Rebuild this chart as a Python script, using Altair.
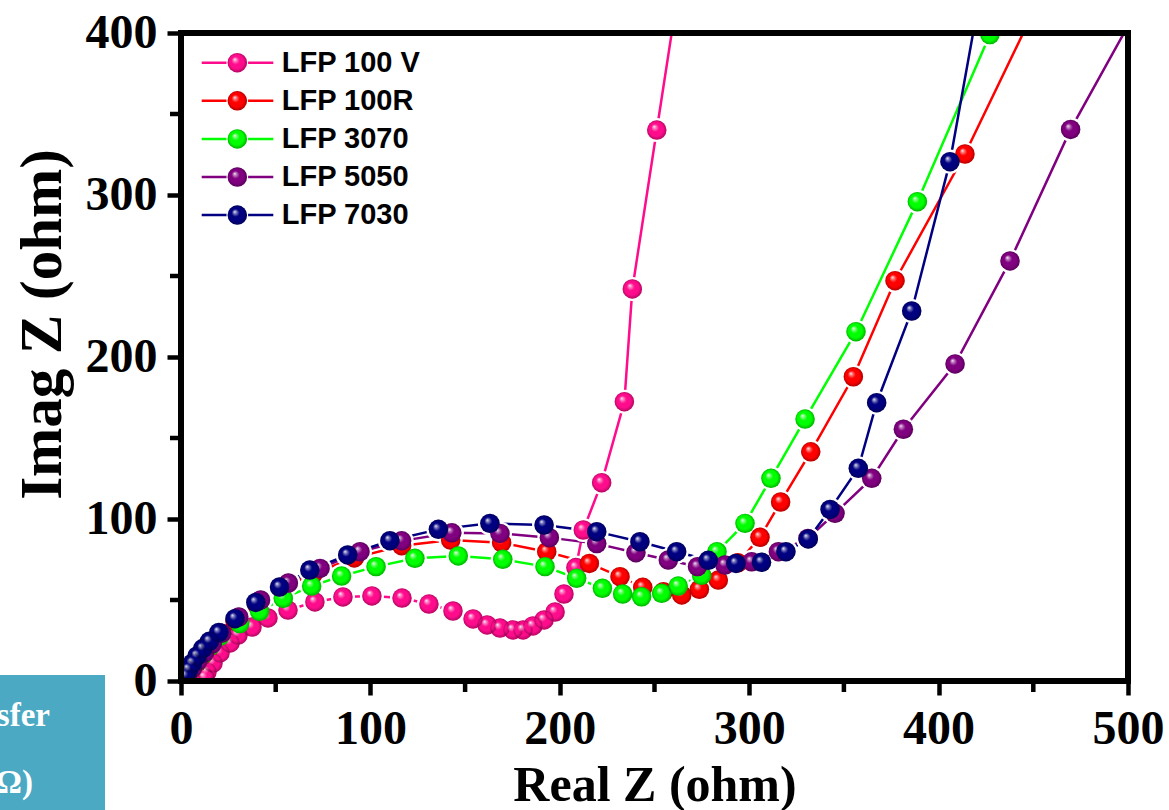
import altair as alt
import pandas as pd

# ---------------- data ----------------
series = ["LFP 100 V", "LFP 100R", "LFP 3070", "LFP 5050", "LFP 7030"]
colors = ["#FF0C8C", "#FF0000", "#00FF00", "#800080", "#000080"]

pink_x = [12.5, 13.7, 16.9, 20.6, 25.9, 30.1, 37.5, 45.9, 56.5, 70.7, 85.5, 100.8, 116.7, 130.9, 143.6,
          154.2, 161.6, 168.4, 175.3, 180.6, 185.8, 191.7, 197.5, 202.2, 208.5, 212.4, 222.1, 234.1,
          238.3, 251.2, 265.0]
pink_y = [2.0, 5.6, 11.1, 17.3, 23.5, 28.4, 33.3, 38.9, 43.8, 48.8, 51.9, 52.5, 51.2, 47.5, 43.2,
          38.3, 34.6, 32.7, 31.5, 31.5, 34.0, 37.7, 42.6, 53.7, 70.0, 93.2, 122.4, 172.4,
          242.0, 340.1, 445.0]

red_x = [3.0, 5.5, 8.5, 11.5, 15.0, 20.0, 28.5, 40.0, 53.5, 70.0, 91.5, 116.5, 142.4, 169.3, 193.1,
         215.6, 231.8, 243.8, 254.7, 264.4, 273.7, 283.7, 294.0, 305.7, 316.6, 332.5, 355.0, 377.0,
         413.9, 455.0]
red_y = [3.0, 7.0, 11.5, 16.0, 21.0, 27.5, 37.0, 47.0, 57.0, 66.5, 76.0, 83.5, 87.0, 85.4, 79.8,
         72.6, 64.4, 57.8, 55.1, 53.1, 56.6, 62.3, 73.0, 88.7, 110.5, 141.5, 187.8, 247.1,
         325.3, 425.0]

green_x = [2.5, 5.0, 8.0, 11.5, 15.5, 20.5, 31.0, 41.5, 54.0, 69.0, 84.8, 103.0, 123.5, 146.4, 169.9,
           192.2, 208.9, 222.5, 233.2, 243.2, 253.8, 262.5, 274.9, 283.0, 297.8, 311.5, 329.5, 356.4,
           388.8, 427.1]
green_y = [3.0, 7.0, 11.5, 16.5, 21.5, 27.5, 35.5, 43.0, 51.0, 58.6, 64.8, 70.6, 75.7, 77.2, 75.1,
           70.6, 63.4, 57.2, 53.7, 52.0, 54.1, 58.6, 65.2, 79.8, 97.3, 125.1, 161.7, 215.6,
           295.9, 399.0]

purple_x = [3.5, 6.0, 9.0, 12.5, 16.5, 21.5, 30.5, 42.0, 56.7, 73.4, 94.5, 116.5, 143.0, 168.4, 194.5,
            219.5, 240.2, 257.3, 272.7, 287.2, 301.3, 315.4, 331.0, 345.3, 364.7, 381.4, 408.7, 437.7,
            469.7, 505.0]
purple_y = [3.5, 8.0, 12.5, 17.5, 23.0, 29.5, 39.5, 50.0, 60.5, 69.5, 79.8, 86.5, 91.5, 91.1, 88.5,
            84.8, 79.2, 74.7, 70.6, 71.6, 73.6, 79.8, 88.0, 103.5, 125.1, 155.4, 195.7, 259.3,
            340.5, 415.0]

navy_x = [2.5, 4.0, 6.0, 8.5, 11.5, 15.0, 20.0, 28.5, 39.5, 52.0, 68.0, 88.0, 110.3, 135.9, 163.1,
          191.7, 219.5, 242.3, 261.7, 278.4, 293.0, 306.5, 319.4, 331.2, 342.7, 357.6, 367.3, 385.8,
          406.0, 425.0]
navy_y = [3.0, 7.0, 11.0, 15.5, 20.0, 24.5, 30.0, 38.5, 48.5, 58.0, 68.5, 77.8, 86.6, 93.6, 97.3,
          96.3, 92.2, 86.0, 79.8, 74.5, 72.6, 73.3, 79.8, 87.7, 105.9, 131.3, 171.8, 228.4,
          320.6, 444.0]

x_ticks = [0, 100, 200, 300, 400, 500]
y_ticks = [0, 100, 200, 300, 400]
x_minor = [50, 150, 250, 350, 450]
y_minor = [50, 150, 250, 350]

# ---------------- table ----------------
xs = [pink_x, red_x, green_x, purple_x, navy_x]
ys = [pink_y, red_y, green_y, purple_y, navy_y]
rows = []
for s, sx, sy in zip(series, xs, ys):
    for i, (a, b) in enumerate(zip(sx, sy)):
        rows.append({"series": s, "x": a, "y": b, "idx": i})
df = pd.DataFrame(rows)

W, H = 947, 648

SERIF = "Liberation Serif"
SANS = "Liberation Sans"

xscale = alt.Scale(domain=[0, 500], nice=False, zero=False)
yscale = alt.Scale(domain=[0, 400], nice=False, zero=False)

xaxis = alt.Axis(values=x_ticks, title="Real Z (ohm)", format="d",
                 labelFont=SERIF, labelFontWeight="bold", labelFontSize=48, labelColor="black",
                 labelPadding=10, labelFlush=False, labelOverlap=False,
                 tickSize=14, tickWidth=4.5, tickColor="black", domain=False, grid=False,
                 titleFont=SERIF, titleFontWeight="bold", titleFontSize=50, titleColor="black",
                 titleY=119, titleBaseline="alphabetic")
yaxis = alt.Axis(values=y_ticks, title="Imag Z (ohm)", format="d",
                 labelFont=SERIF, labelFontWeight="bold", labelFontSize=48, labelColor="black",
                 labelPadding=10, labelFlush=False, labelOverlap=False,
                 tickSize=14, tickWidth=4.5, tickColor="black", domain=False, grid=False,
                 titleFont=SERIF, titleFontWeight="bold", titleFontSize=59, titleColor="black",
                 titleAngle=270, titleX=-109, titleY=291, titleBaseline="bottom", titleAlign="center")

X = alt.X("x:Q", scale=xscale, axis=xaxis)
Y = alt.Y("y:Q", scale=yscale, axis=yaxis)

cscale = alt.Scale(domain=series, range=colors)
C = alt.Color("series:N", scale=cscale, legend=None)

SYM = 380       # marker area, px^2
HALO = 580      # white gap around each marker (breaks the connecting line)

shine = alt.RadialGradient(
    gradient="radial",
    stops=[
        alt.GradientStop(color="rgba(255,255,255,0.95)", offset=0),
        alt.GradientStop(color="rgba(255,255,255,0.45)", offset=0.18),
        alt.GradientStop(color="rgba(255,255,255,0)", offset=0.4),
        alt.GradientStop(color="rgba(0,0,0,0)", offset=0.72),
        alt.GradientStop(color="rgba(0,0,0,0.3)", offset=1),
    ],
    x1=0.36, y1=0.32, r1=0, x2=0.5, y2=0.5, r2=0.5,
)

base = alt.Chart(df)

lines = base.mark_line(strokeWidth=2.5, clip=True).encode(
    x=X, y=Y, color=C, order=alt.Order("idx:Q"),
)

halos = base.mark_point(filled=True, size=HALO, color="white", opacity=1, strokeWidth=0, clip=True).encode(
    x=X, y=Y
)

point_layers = []
for s in series:
    sub = base.transform_filter(alt.datum.series == s)
    pts = sub.mark_point(filled=True, size=SYM, strokeWidth=0, opacity=1, clip=True).encode(
        x=X, y=Y, color=C,
    )
    hl = sub.mark_point(filled=True, size=SYM, strokeWidth=0, opacity=1, fill=shine, clip=True).encode(
        x=X, y=Y
    )
    point_layers += [pts, hl]

xm = alt.Chart(pd.DataFrame({"x": x_minor})).mark_rule(color="black", strokeWidth=4.5).encode(
    x=X, y=alt.value(H), y2=alt.value(H + 11)
)
ym = alt.Chart(pd.DataFrame({"y": y_minor})).mark_rule(color="black", strokeWidth=4.5).encode(
    y=Y, x=alt.value(0), x2=alt.value(-11)
)

data_layer = alt.layer(lines, halos, *point_layers, xm, ym)

# ---------------- legend (drawn from the series list) ----------------
leg_df = pd.DataFrame({"series": series})
LY = alt.Y("series:N", scale=alt.Scale(type="point", domain=series, range=[29.7, 182.1], padding=0),
           axis=None)
leg_line = alt.Chart(leg_df).mark_rule(strokeWidth=2.5).encode(
    x=alt.value(20.7), x2=alt.value(92.3), y=LY, color=C)
leg_halo = alt.Chart(leg_df).mark_point(filled=True, size=470, color="white", opacity=1,
                                        strokeWidth=0).encode(x=alt.value(56.3), y=LY)
leg_pt = alt.Chart(leg_df).mark_point(filled=True, size=SYM, strokeWidth=0, opacity=1).encode(
    x=alt.value(56.3), y=LY, color=C)
leg_hl = alt.Chart(leg_df).mark_point(filled=True, size=SYM, strokeWidth=0, opacity=1, fill=shine).encode(
    x=alt.value(56.3), y=LY)
leg_txt = alt.Chart(leg_df).mark_text(align="left", baseline="middle", font=SANS, fontWeight="bold",
                                      fontSize=29, color="black").encode(
    x=alt.value(100.7), y=LY, text="series:N")
legend_layer = alt.layer(leg_line, leg_halo, leg_pt, leg_hl, leg_txt)

one = pd.DataFrame({"a": [0]})
frame = alt.Chart(one).mark_rect(filled=False, stroke="black", strokeWidth=6).encode(
    x=alt.value(0), x2=alt.value(W), y=alt.value(0), y2=alt.value(H)
)

# cropped slide fragment at the lower left
box = alt.Chart(one).mark_rect(color="#4BA9C4").encode(
    x=alt.value(-181), x2=alt.value(-76), y=alt.value(642), y2=alt.value(777)
)
t1 = alt.Chart(one).mark_text(align="right", baseline="alphabetic", font=SERIF, fontWeight="bold",
                              fontSize=33, color="white").encode(
    x=alt.value(-131), y=alt.value(693), text=alt.value("sfer"))
t2 = alt.Chart(one).mark_text(align="right", baseline="alphabetic", font=SERIF, fontWeight="bold",
                              fontSize=33, color="white").encode(
    x=alt.value(-148), y=alt.value(760), text=alt.value("Ω)"))

chart = alt.layer(data_layer, legend_layer, frame, box, t1, t2).resolve_scale(
    y="independent"
).properties(
    width=W, height=H,
    autosize=alt.AutoSizeParams(type="none"),
    padding={"left": 181, "top": 33, "right": 41, "bottom": 129},
    background="white",
).configure_view(stroke=None)

chart.save("out.html", embed_options={"renderer": "svg", "actions": False})
